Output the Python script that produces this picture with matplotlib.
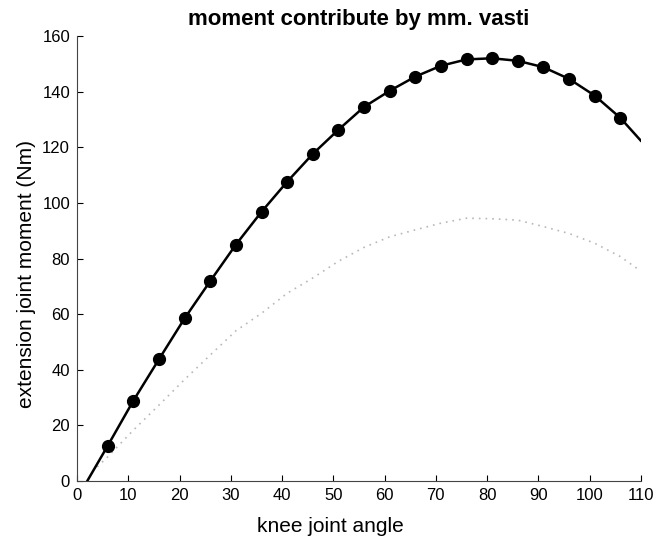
import matplotlib.pyplot as plt

plt.rcParams['font.family'] = ['Liberation Sans', 'DejaVu Sans']

# vasti moment (black, with markers)
angle = [2, 6, 11, 16, 21, 26, 31, 36, 41, 46, 51, 56, 61, 66, 71, 76, 81, 86,
         91, 96, 101, 106, 110]
moment = [0, 12.7, 28.9, 43.8, 58.5, 71.9, 85.0, 96.8, 107.6, 117.6, 126.3, 134.5,
          140.3, 145.4, 149.3, 151.6, 152.0, 151.1, 148.8, 144.6, 138.6, 130.6, 122.4]

# lower gray dotted curve
angle2 = [3, 6, 11, 16, 21, 26, 31, 36, 41, 46, 51, 56, 61, 66, 71, 76, 81, 86,
          91, 96, 101, 106, 110]
moment2 = [3.4, 8.7, 18.3, 27.3, 36.5, 45.3, 54.0, 60.3, 67.5, 73.0, 79.0, 84.0,
           87.8, 90.3, 92.7, 94.5, 94.3, 93.8, 91.5, 89.0, 85.5, 80.7, 75.5]

fig = plt.figure(figsize=(6.64, 5.38), dpi=100)
ax = fig.add_axes([0.116, 0.106, 0.849, 0.827])

ax.plot(angle2, moment2, color='#b8b8b8', lw=1.2, linestyle=(0, (1, 3)))
ax.plot(angle, moment, color='black', lw=1.8)
ax.plot(angle[1:-1], moment[1:-1], 'o', color='black', markersize=8.5)

ax.set_xlim(0, 110)
ax.set_ylim(0, 160)
ax.set_xticks(range(0, 111, 10))
ax.set_yticks(range(0, 161, 20))
ax.tick_params(direction='in', labelsize=12, length=4, width=0.8, pad=5)
for s in ['top', 'right']:
    ax.spines[s].set_visible(False)
for s in ['left', 'bottom']:
    ax.spines[s].set_linewidth(0.8)
    ax.spines[s].set_color('#444444')

ax.set_xlabel('knee joint angle', fontsize=15)
ax.set_ylabel('extension joint moment (Nm)', fontsize=15)
ax.xaxis.set_label_coords(0.45, -0.08)
ax.yaxis.set_label_coords(-0.073, 0.465)
ax.set_title('moment contribute by mm. vasti', fontsize=16, fontweight='bold', pad=8)

fig.savefig('out.png', dpi=100)
